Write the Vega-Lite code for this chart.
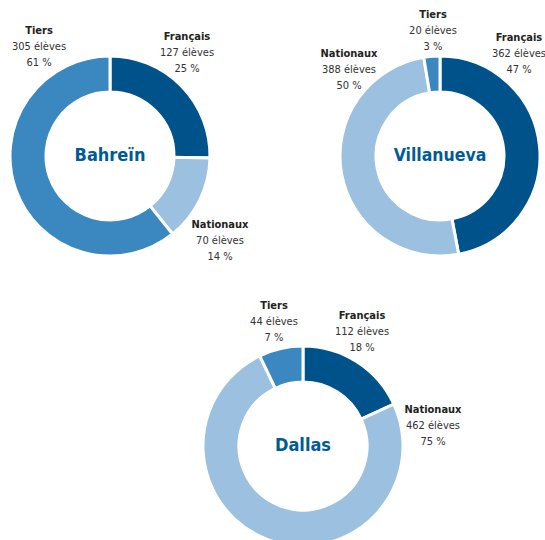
{
  "$schema": "https://vega.github.io/schema/vega-lite/v6.json",
  "padding": 0,
  "bounds": "flush",
  "columns": 3,
  "spacing": {"row": 40, "column": 0},
  "config": {
    "view": {"stroke": null},
    "text": {"font": "DejaVu Sans Condensed, Liberation Sans Narrow, sans-serif"}
  },
  "datasets": {
    "d": [
      {"site": "Bahreïn", "cat": "Français", "n": 127, "pct": 25},
      {"site": "Bahreïn", "cat": "Nationaux", "n": 70, "pct": 14},
      {"site": "Bahreïn", "cat": "Tiers", "n": 305, "pct": 61},
      {"site": "Villanueva", "cat": "Français", "n": 362, "pct": 47},
      {"site": "Villanueva", "cat": "Nationaux", "n": 388, "pct": 50},
      {"site": "Villanueva", "cat": "Tiers", "n": 20, "pct": 3},
      {"site": "Dallas", "cat": "Français", "n": 112, "pct": 18},
      {"site": "Dallas", "cat": "Nationaux", "n": 462, "pct": 75},
      {"site": "Dallas", "cat": "Tiers", "n": 44, "pct": 7}
    ]
  },
  "concat": [
    {
      "width": 220,
      "height": 312,
      "data": {"name": "d"},
      "transform": [
        {"filter": "datum.site === 'Bahreïn'"},
        {"calculate": "[datum.n + ' élèves', datum.pct + ' %']", "as": "detail"}
      ],
      "layer": [
        {
          "mark": {"type": "arc", "outerRadius": 100, "innerRadius": 64, "stroke": "white", "strokeWidth": 3},
          "encoding": {
            "theta": {"field": "n", "type": "quantitative", "stack": true},
            "color": {"field": "cat", "type": "nominal", "legend": null,
              "scale": {"domain": ["Français", "Nationaux", "Tiers"], "range": ["#00538a", "#9bc0e0", "#3a88bf"]}}
          }
        },
        {
          "transform": [{"filter": "datum.cat === 'Français'"}],
          "mark": {"type": "text", "theta": 0.642, "radius": 128.6, "dy": -16, "fontSize": 11, "fontWeight": "bold", "color": "#222"},
          "encoding": {"text": {"field": "cat"}}
        },
        {
          "transform": [{"filter": "datum.cat === 'Français'"}],
          "mark": {"type": "text", "theta": 0.642, "radius": 128.6, "dy": 0, "lineHeight": 16, "fontSize": 11, "color": "#333"},
          "encoding": {"text": {"field": "detail"}}
        },
        {
          "transform": [{"filter": "datum.cat === 'Nationaux'"}],
          "mark": {"type": "text", "theta": 2.229, "radius": 139, "dy": -16, "fontSize": 11, "fontWeight": "bold", "color": "#222"},
          "encoding": {"text": {"field": "cat"}}
        },
        {
          "transform": [{"filter": "datum.cat === 'Nationaux'"}],
          "mark": {"type": "text", "theta": 2.229, "radius": 139, "dy": 0, "lineHeight": 16, "fontSize": 11, "color": "#333"},
          "encoding": {"text": {"field": "detail"}}
        },
        {
          "transform": [{"filter": "datum.cat === 'Tiers'"}],
          "mark": {"type": "text", "theta": 5.706, "radius": 130.1, "dy": -16, "fontSize": 11, "fontWeight": "bold", "color": "#222"},
          "encoding": {"text": {"field": "cat"}}
        },
        {
          "transform": [{"filter": "datum.cat === 'Tiers'"}],
          "mark": {"type": "text", "theta": 5.706, "radius": 130.1, "dy": 0, "lineHeight": 16, "fontSize": 11, "color": "#333"},
          "encoding": {"text": {"field": "detail"}}
        },
        {
          "transform": [{"filter": "datum.cat === 'Français'"}],
          "mark": {"type": "text", "fontSize": 18, "fontWeight": "bold", "color": "#005a96"},
          "encoding": {"text": {"field": "site"}}
        }
      ]
    },
    {
      "width": 166,
      "height": 312,
      "data": {"values": [{}]},
      "mark": {"type": "text"},
      "encoding": {"text": {"value": ""}}
    },
    {
      "width": 108,
      "height": 312,
      "data": {"name": "d"},
      "transform": [
        {"filter": "datum.site === 'Villanueva'"},
        {"calculate": "[datum.n + ' élèves', datum.pct + ' %']", "as": "detail"}
      ],
      "layer": [
        {
          "mark": {"type": "arc", "outerRadius": 100, "innerRadius": 64, "stroke": "white", "strokeWidth": 3},
          "encoding": {
            "theta": {"field": "n", "type": "quantitative", "stack": true},
            "color": {"field": "cat", "type": "nominal", "legend": null,
              "scale": {"domain": ["Français", "Nationaux", "Tiers"], "range": ["#00538a", "#9bc0e0", "#3a88bf"]}}
          }
        },
        {
          "transform": [{"filter": "datum.cat === 'Français'"}],
          "mark": {"type": "text", "theta": 0.659, "radius": 129, "dy": -16, "fontSize": 11, "fontWeight": "bold", "color": "#222"},
          "encoding": {"text": {"field": "cat"}}
        },
        {
          "transform": [{"filter": "datum.cat === 'Français'"}],
          "mark": {"type": "text", "theta": 0.659, "radius": 129, "dy": 0, "lineHeight": 16, "fontSize": 11, "color": "#333"},
          "encoding": {"text": {"field": "detail"}}
        },
        {
          "transform": [{"filter": "datum.cat === 'Nationaux'"}],
          "mark": {"type": "text", "theta": 5.469, "radius": 125.2, "dy": -16, "fontSize": 11, "fontWeight": "bold", "color": "#222"},
          "encoding": {"text": {"field": "cat"}}
        },
        {
          "transform": [{"filter": "datum.cat === 'Nationaux'"}],
          "mark": {"type": "text", "theta": 5.469, "radius": 125.2, "dy": 0, "lineHeight": 16, "fontSize": 11, "color": "#333"},
          "encoding": {"text": {"field": "detail"}}
        },
        {
          "transform": [{"filter": "datum.cat === 'Tiers'"}],
          "mark": {"type": "text", "theta": 6.227, "radius": 125.2, "dy": -16, "fontSize": 11, "fontWeight": "bold", "color": "#222"},
          "encoding": {"text": {"field": "cat"}}
        },
        {
          "transform": [{"filter": "datum.cat === 'Tiers'"}],
          "mark": {"type": "text", "theta": 6.227, "radius": 125.2, "dy": 0, "lineHeight": 16, "fontSize": 11, "color": "#333"},
          "encoding": {"text": {"field": "detail"}}
        },
        {
          "transform": [{"filter": "datum.cat === 'Français'"}],
          "mark": {"type": "text", "fontSize": 17.5, "fontWeight": "bold", "color": "#005a96"},
          "encoding": {"text": {"field": "site"}}
        }
      ]
    },
    {
      "width": 220,
      "height": 188,
      "data": {"values": [{}]},
      "mark": {"type": "text"},
      "encoding": {"text": {"value": ""}}
    },
    {
      "width": 166,
      "height": 188,
      "data": {"name": "d"},
      "transform": [
        {"filter": "datum.site === 'Dallas'"},
        {"calculate": "[datum.n + ' élèves', datum.pct + ' %']", "as": "detail"}
      ],
      "layer": [
        {
          "mark": {"type": "arc", "outerRadius": 100, "innerRadius": 64, "stroke": "white", "strokeWidth": 3},
          "encoding": {
            "theta": {"field": "n", "type": "quantitative", "stack": true},
            "color": {"field": "cat", "type": "nominal", "legend": null,
              "scale": {"domain": ["Français", "Nationaux", "Tiers"], "range": ["#00538a", "#9bc0e0", "#3a88bf"]}}
          }
        },
        {
          "transform": [{"filter": "datum.cat === 'Français'"}],
          "mark": {"type": "text", "theta": 0.478, "radius": 128.4, "dy": -16, "fontSize": 11, "fontWeight": "bold", "color": "#222"},
          "encoding": {"text": {"field": "cat"}}
        },
        {
          "transform": [{"filter": "datum.cat === 'Français'"}],
          "mark": {"type": "text", "theta": 0.478, "radius": 128.4, "dy": 0, "lineHeight": 16, "fontSize": 11, "color": "#333"},
          "encoding": {"text": {"field": "detail"}}
        },
        {
          "transform": [{"filter": "datum.cat === 'Nationaux'"}],
          "mark": {"type": "text", "theta": 1.418, "radius": 131.5, "dy": -16, "fontSize": 11, "fontWeight": "bold", "color": "#222"},
          "encoding": {"text": {"field": "cat"}}
        },
        {
          "transform": [{"filter": "datum.cat === 'Nationaux'"}],
          "mark": {"type": "text", "theta": 1.418, "radius": 131.5, "dy": 0, "lineHeight": 16, "fontSize": 11, "color": "#333"},
          "encoding": {"text": {"field": "detail"}}
        },
        {
          "transform": [{"filter": "datum.cat === 'Tiers'"}],
          "mark": {"type": "text", "theta": 6.053, "radius": 127.3, "dy": -16, "fontSize": 11, "fontWeight": "bold", "color": "#222"},
          "encoding": {"text": {"field": "cat"}}
        },
        {
          "transform": [{"filter": "datum.cat === 'Tiers'"}],
          "mark": {"type": "text", "theta": 6.053, "radius": 127.3, "dy": 0, "lineHeight": 16, "fontSize": 11, "color": "#333"},
          "encoding": {"text": {"field": "detail"}}
        },
        {
          "transform": [{"filter": "datum.cat === 'Français'"}],
          "mark": {"type": "text", "fontSize": 18, "fontWeight": "bold", "color": "#005a96"},
          "encoding": {"text": {"field": "site"}}
        }
      ]
    }
  ]
}
